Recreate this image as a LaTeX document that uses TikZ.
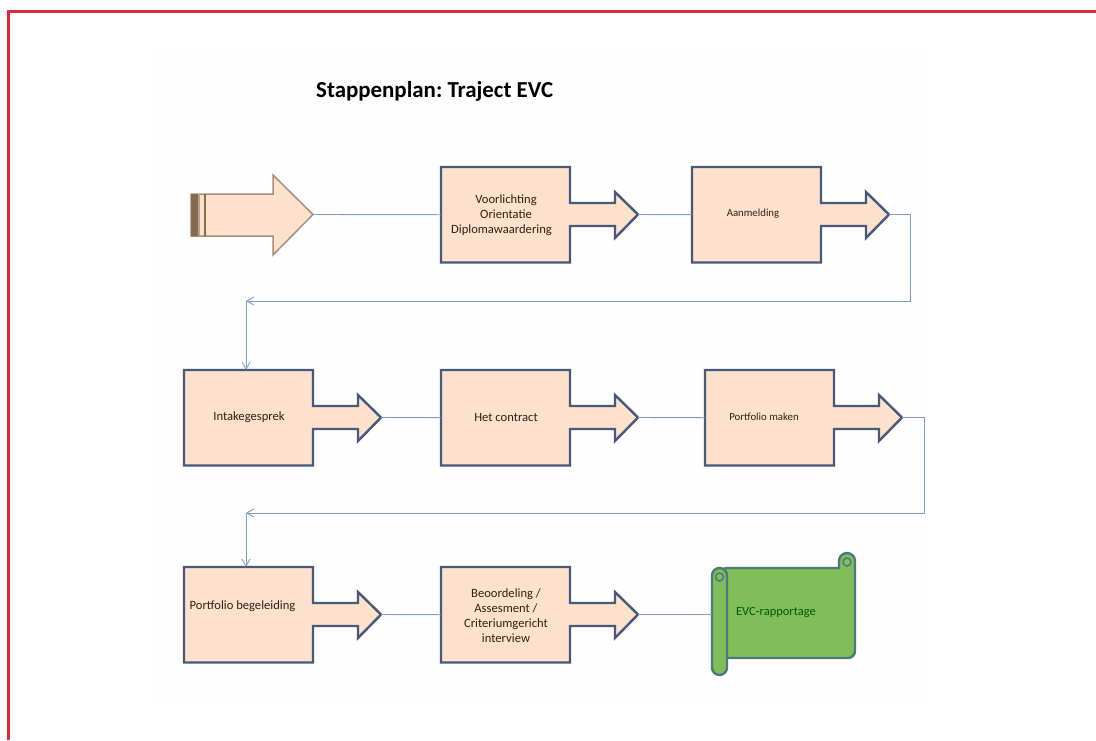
\documentclass[tikz,border=0pt]{standalone}
\usepackage{fontspec}
\setmainfont{Carlito}
\usepackage{tikz}
\usetikzlibrary{calc}
\usetikzlibrary{arrows.meta}

\definecolor{framered}{HTML}{D92B3A}
\definecolor{boxfill}{HTML}{FDE1CC}
\definecolor{boxline}{HTML}{47597A}
\definecolor{linkblue}{HTML}{7F9CCB}
\definecolor{scrollgreen}{HTML}{7FBE58}
\definecolor{scrollline}{HTML}{4A7A7E}

\tikzset{
  link/.style={draw=linkblue,line width=0.9pt},
  linkarrow/.style={link,-{Straight Barb[length=7pt,width=8pt]}},
  steptext/.style={inner sep=0pt,align=center,text=black!75!brown,font=\fontsize{12.6}{15}\selectfont},
  smalltext/.style={steptext,font=\fontsize{10.8}{15}\selectfont},
  stepbox/.style={inner sep=0pt,minimum width=129pt,minimum height=95pt},
  scrollshape/.style={draw=scrollline,fill=scrollgreen,line width=2.4pt,line join=round}
}

% name, left, top
\newcommand{\callbox}[3]{
  \draw[draw=boxline,fill=boxfill,line width=2.4pt,miter limit=3]
    (#2,#3) -- ++(129,0) -- ++(0,36) -- ++(45,0) -- ++(0,-11) -- ++(23,22.5)
    -- ++(-23,23.5) -- ++(0,-12) -- ++(-45,0) -- ++(0,36.5) -- ++(-129,0) -- cycle;
  \node[stepbox,anchor=north west] (#1) at (#2,#3) {};
  \coordinate (#1tip) at (#2+197,#3+47.5);
}

\begin{document}
\frenchspacing
\begin{tikzpicture}[x=1pt,y=-1pt]
  \useasboundingbox (0,0) rectangle (1096,740);
  \fill[black!0.5] (152,52) rectangle (930,700);
  \draw[framered,line width=3pt] (8.5,740) -- (8.5,11.5) -- (1096,11.5);

  \node[anchor=west,inner sep=0pt,font=\fontsize{22.9}{26}\selectfont\bfseries] (title) at (316,91) {Stappenplan: Traject EVC};

  % start arrow
  \draw[draw=black!45!brown!60,fill=boxfill,line width=1.5pt]
    (191,194) -- (273,194) -- (273,175) -- (313,214.5) -- (273,255) -- (273,236) -- (191,236) -- cycle;
  \fill[black!45!brown!80] (191,194) rectangle (198,236);
  \fill[black!45!brown!50] (198,194) rectangle (200,236);
  \fill[black!45!brown!80] (203.5,194) rectangle (205.5,236);
  \coordinate (starttip) at (314,214.5);

  \callbox{voorlichting}{441}{167}
  \callbox{aanmelding}{692}{167}
  \callbox{intake}{184}{370}
  \callbox{contract}{441}{370}
  \callbox{portfolio}{705}{370}
  \callbox{begeleiding}{184}{567}
  \callbox{beoordeling}{441}{567}

  \node[steptext] (voorlichtingtext) at (506,215) {Voorlichting\\Orientatie\\Diplomawaardering\hspace*{9pt}};
  \node[smalltext] (aanmeldingtext) at (753,214) {Aanmelding};
  \node[steptext] (intaketext) at (249,417) {Intakegesprek};
  \node[steptext] (contracttext) at (506,417) {Het contract};
  \node[smalltext] (portfoliotext) at (764,417) {Portfolio maken};
  \node[steptext] (begeleidingtext) at (242.5,606) {Portfolio begeleiding};
  \node[steptext] (beoordelingtext) at (506,615.5) {Beoordeling /\\Assesment /\\Criteriumgericht\\interview};

  % scroll
  \draw[scrollshape] (720,568) -- (839,568) [rounded corners=8pt] -- (839,553) -- (855,553)
    [rounded corners=7pt] -- (855,658) -- (720,658) -- cycle;
  \draw[scrollshape,rounded corners=7.5pt] (712,568) rectangle (727,675);
  \draw[scrollline,line width=1.5pt] (719.5,577) circle[radius=4];
  \draw[scrollline,line width=1.5pt] (847,562) circle[radius=4];
  \node[inner sep=0pt,text=green!35!black,font=\fontsize{12.5}{15}\selectfont] (rapportage) at (776,613) {EVC-rapportage};
  \coordinate (scrollin) at (712,614.5);

  % connectors
  \draw[link] (starttip) -- (voorlichting.west);
  \draw[link] (voorlichtingtip) -- (aanmelding.west);
  \coordinate (turnone) at (246,301);
  \draw[linkarrow] (aanmeldingtip) -- (910,214.5) -- (910,301) -- (turnone);
  \draw[linkarrow] (turnone) -- (turnone |- intake.north);
  \draw[link] (intaketip) -- (contract.west);
  \draw[link] (contracttip) -- (portfolio.west);
  \coordinate (turntwo) at (246,513);
  \draw[linkarrow] (portfoliotip) -- (924,417.5) -- (924,513) -- (turntwo);
  \draw[linkarrow] (turntwo) -- (turntwo |- begeleiding.north);
  \draw[link] (begeleidingtip) -- (beoordeling.west);
  \draw[link] (beoordelingtip) -- (scrollin);
\end{tikzpicture}
\end{document}
